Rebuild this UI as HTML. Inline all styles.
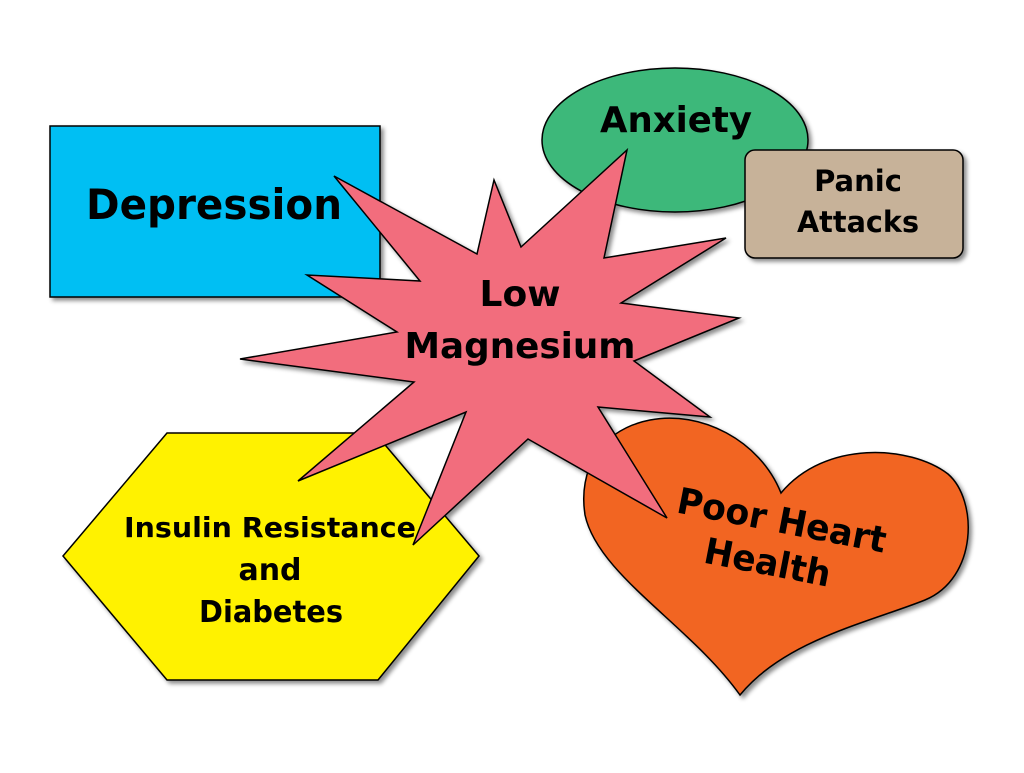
<!DOCTYPE html>
<html><head><meta charset="utf-8"><style>
html,body{margin:0;padding:0;background:#fff;}
svg text{font-family:"DejaVu Sans","Liberation Sans",sans-serif;font-weight:bold;fill:#000;}
</style></head><body>
<svg width="1024" height="768" viewBox="0 0 1024 768" xmlns="http://www.w3.org/2000/svg">
<defs><filter id="sh" x="-10%" y="-10%" width="130%" height="130%"><feDropShadow dx="3" dy="3" stdDeviation="2" flood-color="#000" flood-opacity="0.45"/></filter></defs>
<g stroke="#000" stroke-width="1.5" filter="url(#sh)">
<rect x="50" y="126" width="330" height="171" fill="#00BFF3"/>
<ellipse cx="675" cy="140" rx="133" ry="72" fill="#3DB87A"/>
<rect x="745" y="150" width="218" height="108" rx="10" fill="#C7B299"/>
<polygon points="63,556 167,433 375,433 479,556 378,680 167,680" fill="#FFF200"/>
<path d="M781,493 C760,440 700,410 650,420 C600,430 578,470 585,515 C598,575 690,625 740,695 C785,640 870,622 925,600 C978,578 978,500 948,474 C910,445 825,440 781,493 Z" fill="#F26522"/>
<polygon points="334,176 477,254 494,180 521,247 627,150 604,258 726,238 621,303 739,318 634,361 710,417 598,407 667,518 528,439 413,545 466,412 298,481 414,382 240,359 397,332 307,275 420,281" fill="#F26D7D"/>
</g>
<text x="214" y="219" font-size="42" text-anchor="middle" textLength="256" lengthAdjust="spacingAndGlyphs">Depression</text>
<text x="676" y="132" font-size="36" text-anchor="middle" textLength="152" lengthAdjust="spacingAndGlyphs">Anxiety</text>
<text x="858" y="191" font-size="29" text-anchor="middle">Panic</text>
<text x="858" y="232" font-size="29" text-anchor="middle" textLength="122" lengthAdjust="spacingAndGlyphs">Attacks</text>
<text x="520" y="306" font-size="36" text-anchor="middle">Low</text>
<text x="520" y="358" font-size="36" text-anchor="middle" textLength="231" lengthAdjust="spacingAndGlyphs">Magnesium</text>
<text x="270" y="537" font-size="28" text-anchor="middle" textLength="292" lengthAdjust="spacingAndGlyphs">Insulin Resistance</text>
<text x="270" y="580" font-size="30" text-anchor="middle">and</text>
<text x="271" y="622" font-size="30" text-anchor="middle" textLength="144" lengthAdjust="spacingAndGlyphs">Diabetes</text>
<g transform="rotate(11 776 540)">
<text x="778" y="532" font-size="36" text-anchor="middle" textLength="212" lengthAdjust="spacingAndGlyphs">Poor Heart</text>
<text x="772" y="576" font-size="36" text-anchor="middle" textLength="128" lengthAdjust="spacingAndGlyphs">Health</text>
</g>
</svg>
</body></html>
